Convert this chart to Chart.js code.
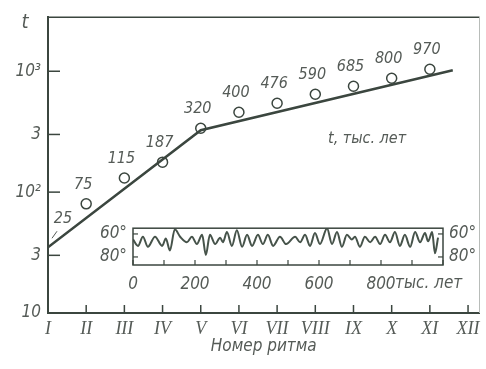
<!DOCTYPE html>
<html>
<head>
<meta charset="utf-8">
<script src="https://cdn.jsdelivr.net/npm/chart.js@4/dist/chart.umd.min.js"></script>
<style>
  html, body { margin: 0; padding: 0; background: #fff; }
  #wrap { position: relative; width: 486px; height: 369px; }
  #main { position: absolute; left: 0; top: 0; }
  #inset { position: absolute; left: 95px; top: 212px; }
</style>
</head>
<body>
<div id="wrap">
  <canvas id="main" width="486" height="369"></canvas>
  <canvas id="inset" width="391" height="90"></canvas>
</div>
<script>
// rhythm numbers on the x axis
const romans = ['I', 'II', 'III', 'IV', 'V', 'VI', 'VII', 'VIII', 'IX', 'X', 'XI', 'XII'];
const yTickValues = [10, 30, 100, 300, 1000];
const yTickLabels = ['10', '3', '10²', '3', '10³'];

// broken trend line (rhythm index, age in ka)
const trendX = [0, 4, 10.6];
const trendY = [35, 325, 1020];

// circles and their printed ages
const pointValues = [null, 80, 131, 177, 338, 458, 544, 645, 752, 875, 1040];
const pointLabels = ['25', '75', '115', '187', '320', '400', '476', '590', '685', '800', '970'];

// inset curve: turning points (ka, degrees)
const insetAge = [0, 16, 32, 48, 71, 94, 106, 119, 135, 152, 174, 190, 206, 223, 235, 248, 265, 281, 290, 303,
  319, 335, 352, 368, 384, 403, 419, 435, 452, 474, 494, 523, 539, 555, 571, 587, 603, 626, 642, 658,
  674, 690, 706, 716, 732, 748, 765, 781, 797, 813, 829, 845, 861, 877, 894, 910, 926, 942, 952, 965, 974, 984];
const insetTemp = [64.8, 70.4, 62.4, 71.2, 62.4, 70.4, 64, 74.4, 56, 62.4, 67.2, 62.4, 68.8, 60.8, 78.4, 60.8, 68.8, 63.2, 67.2, 58.4,
  70.4, 56.8, 71.2, 60.8, 70.4, 60.8, 68.8, 60.8, 70.4, 62.4, 68.8, 62.4, 67.2, 60.8, 70.4, 59.2, 68.8, 55.2, 68.8, 58.4,
  71.2, 60.8, 64.8, 62.4, 71.2, 62.4, 67.2, 62.4, 68.8, 60.8, 67.2, 58.4, 70.4, 60.8, 71.2, 58.4, 67.2, 59.2, 66.4, 58.4, 76.8, 63.2];
const insetXTicks = [0, 100, 200, 300, 400, 500, 600, 700, 800, 900, 1000];
const insetXLabels = [0, 200, 400, 600, 800];
const insetYTicks = [60, 80];

const ink = '#3b463f';
const textInk = '#555b57';
const sansFont = "'DejaVu Sans Condensed', 'DejaVu Sans', sans-serif";

const mainDecor = {
  id: 'mainDecor',
  afterDraw(chart) {
    const { ctx, chartArea: a, scales } = chart;
    ctx.save();
    ctx.strokeStyle = ink;
    ctx.lineWidth = 1.5;
    ctx.beginPath();
    ctx.moveTo(a.left, a.top); ctx.lineTo(a.right, a.top);
    ctx.stroke();
    ctx.strokeStyle = '#b8bcb9';
    ctx.lineWidth = 1;
    ctx.beginPath();
    ctx.moveTo(a.right, a.top); ctx.lineTo(a.right, a.bottom);
    ctx.stroke();

    // inward ticks
    ctx.strokeStyle = ink;
    ctx.lineWidth = 1.5;
    yTickValues.forEach(v => {
      const y = scales.y.getPixelForValue(v);
      ctx.beginPath(); ctx.moveTo(a.left, y); ctx.lineTo(a.left + 12, y); ctx.stroke();
    });
    romans.forEach((r, i) => {
      if (i === 0) return;
      const x = scales.x.getPixelForValue(i);
      ctx.beginPath(); ctx.moveTo(x, a.bottom); ctx.lineTo(x, a.bottom - 8); ctx.stroke();
    });

    // printed ages
    ctx.fillStyle = textInk;
    ctx.font = 'oblique 16px ' + sansFont;
    ctx.textAlign = 'center';
    ctx.textBaseline = 'middle';
    const circles = chart.getDatasetMeta(1).data;
    let k = 0;
    pointValues.forEach((v, i) => {
      if (v === null) return;
      const p = circles[k++];
      ctx.fillText(pointLabels[i], p.x - 3, p.y - 19);
    });
    // first age sits on the trend line with a short leader
    const x0 = scales.x.getPixelForValue(trendX[0]);
    const y0 = scales.y.getPixelForValue(trendY[0]);
    ctx.fillText(pointLabels[0], x0 + 15, y0 - 28);
    ctx.lineWidth = 1;
    ctx.strokeStyle = textInk;
    ctx.beginPath(); ctx.moveTo(x0 + 4, y0 - 9); ctx.lineTo(x0 + 9, y0 - 16); ctx.stroke();

    // axis letter and note
    ctx.font = 'oblique 20px ' + sansFont;
    ctx.fillText('t', 25, 23);
    ctx.font = 'oblique 16px ' + sansFont;
    ctx.fillText('t, тыс. лет', 367, 139);
    ctx.restore();
  }
};

new Chart(document.getElementById('main'), {
  type: 'line',
  data: {
    datasets: [
      {
        data: trendX.map((x, i) => ({ x: x, y: trendY[i] })),
        borderColor: ink,
        borderWidth: 2.5,
        pointRadius: 0,
        tension: 0
      },
      {
        data: pointValues.map((v, i) => ({ x: i, y: v })).filter(p => p.y !== null),
        showLine: false,
        pointRadius: 5,
        pointBorderWidth: 1.5,
        pointBorderColor: ink,
        pointBackgroundColor: '#fff'
      }
    ]
  },
  options: {
    responsive: false,
    animation: false,
    layout: { padding: { top: 17, right: 2, left: 0, bottom: 0 } },
    plugins: { legend: { display: false }, tooltip: { enabled: false } },
    scales: {
      x: {
        type: 'linear',
        min: 0,
        max: 11.3,
        afterBuildTicks: s => { s.ticks = romans.map((r, i) => ({ value: i })); },
        afterFit: s => { s.height = 56; },
        ticks: {
          autoSkip: false,
          maxRotation: 0,
          padding: 5,
          color: textInk,
          font: { family: "'Liberation Serif', serif", style: 'italic', size: 18 },
          callback: v => romans[v]
        },
        grid: { display: false, drawTicks: false },
        border: { display: true, color: ink, width: 2 },
        title: {
          display: true,
          text: 'Номер ритма',
          color: textInk,
          font: { family: sansFont, style: 'italic', size: 17 },
          padding: { top: 0, bottom: 12 }
        }
      },
      y: {
        type: 'logarithmic',
        min: 10,
        max: 2800,
        afterBuildTicks: s => { s.ticks = yTickValues.map(v => ({ value: v })); },
        afterFit: s => { s.width = 48; },
        ticks: {
          padding: 7,
          color: textInk,
          font: { family: sansFont, style: 'italic', size: 17 },
          callback: (v, i) => yTickLabels[i]
        },
        grid: { display: false, drawTicks: false },
        border: { display: true, color: ink, width: 2 }
      }
    }
  },
  plugins: [mainDecor]
});

const insetDecor = {
  id: 'insetDecor',
  afterDraw(chart) {
    const { ctx, chartArea: a, scales } = chart;
    ctx.save();
    ctx.strokeStyle = ink;
    ctx.lineWidth = 1.5;
    ctx.strokeRect(a.left, a.top, a.right - a.left, a.bottom - a.top);
    ctx.lineWidth = 1.2;
    insetXTicks.forEach(v => {
      const x = scales.x.getPixelForValue(v);
      ctx.beginPath(); ctx.moveTo(x, a.bottom); ctx.lineTo(x, a.bottom - 5); ctx.stroke();
    });
    insetYTicks.forEach(v => {
      const y = scales.y.getPixelForValue(v);
      ctx.beginPath(); ctx.moveTo(a.left, y); ctx.lineTo(a.left + 5, y); ctx.stroke();
      ctx.beginPath(); ctx.moveTo(a.right, y); ctx.lineTo(a.right - 5, y); ctx.stroke();
    });
    // unit right after the last number
    const last = insetXLabels[insetXLabels.length - 1];
    ctx.fillStyle = textInk;
    ctx.font = 'oblique 17px ' + sansFont;
    ctx.textAlign = 'left';
    ctx.textBaseline = 'middle';
    ctx.fillText('тыс. лет', scales.x.getPixelForValue(last) + 14, a.bottom + 19);
    ctx.restore();
  }
};

const insetTickFont = { family: sansFont, style: 'italic', size: 17 };

new Chart(document.getElementById('inset'), {
  type: 'line',
  data: {
    datasets: [{
      data: insetAge.map((x, i) => ({ x: x, y: insetTemp[i] })),
      borderColor: '#46534a',
      borderWidth: 2,
      pointRadius: 0,
      cubicInterpolationMode: 'monotone'
    }]
  },
  options: {
    responsive: false,
    animation: false,
    layout: { padding: { top: 13, right: 0, left: 0, bottom: 0 } },
    plugins: { legend: { display: false }, tooltip: { enabled: false } },
    scales: {
      x: {
        type: 'linear',
        min: 0,
        max: 1000,
        afterBuildTicks: s => { s.ticks = insetXLabels.map(v => ({ value: v })); },
        afterFit: s => { s.height = 37; },
        ticks: {
          autoSkip: false,
          maxRotation: 0,
          padding: 9,
          color: textInk,
          font: insetTickFont,
          callback: v => String(v)
        },
        grid: { display: false, drawTicks: false },
        border: { display: false }
      },
      y: {
        type: 'linear',
        reverse: true,
        min: 55,
        max: 87,
        afterBuildTicks: s => { s.ticks = insetYTicks.map(v => ({ value: v })); },
        afterFit: s => { s.width = 38; },
        ticks: { padding: 6, color: textInk, font: insetTickFont, callback: v => v + '°' },
        grid: { display: false, drawTicks: false },
        border: { display: false }
      },
      y1: {
        type: 'linear',
        position: 'right',
        reverse: true,
        min: 55,
        max: 87,
        afterBuildTicks: s => { s.ticks = insetYTicks.map(v => ({ value: v })); },
        afterFit: s => { s.width = 43; },
        ticks: { padding: 6, color: textInk, font: insetTickFont, callback: v => v + '°' },
        grid: { display: false, drawTicks: false },
        border: { display: false }
      }
    }
  },
  plugins: [insetDecor]
});
</script>
</body>
</html>
